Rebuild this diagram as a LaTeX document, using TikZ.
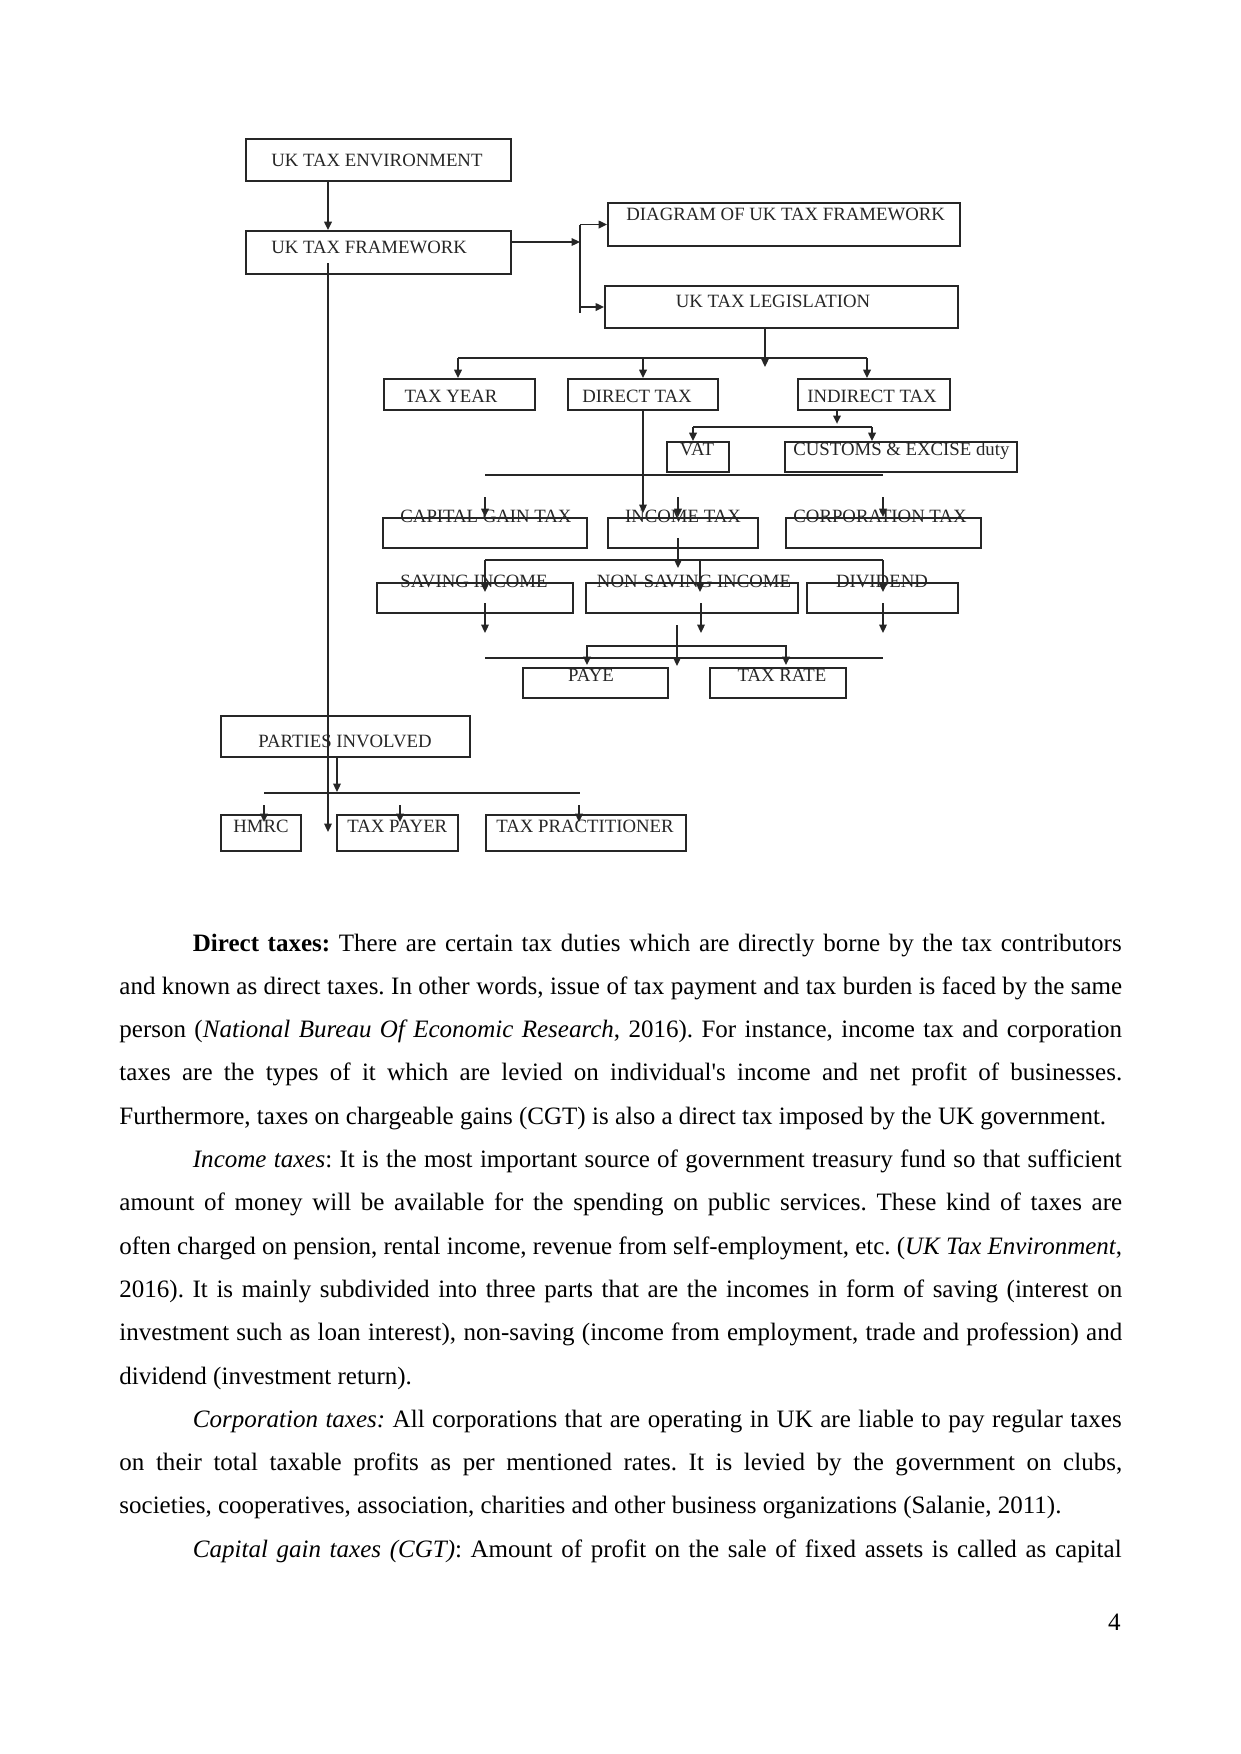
\documentclass[tikz,border=0pt]{standalone}
\usepackage{fontspec}
\setmainfont{Liberation Serif}
\usetikzlibrary{arrows.meta,fit}

\tikzset{
  box/.style={draw=black!85, line width=0.9pt, inner sep=0pt},
  lbl/.style={text=black!85, font=\fontsize{9}{10}\selectfont, inner sep=0pt},
  con/.style={draw=black!85, line width=0.8pt},
  arr/.style={con, -{Triangle[length=4pt,width=3.6pt]}},
  txt/.style={inner sep=0pt, anchor=base west, font=\fontsize{12}{14}\selectfont},
}
\newcommand{\fullline}[1]{\makebox[481pt][s]{#1}}
\newcommand{\indline}[1]{\makebox[445.5pt][s]{#1}}
\frenchspacing

\begin{document}
\begin{tikzpicture}[x=0.47968pt, y=-0.47968pt]
    \useasboundingbox (0,0) rectangle (1241,1754);

    % Boxes
    \node[box, fit={(246,139) (511,181)}] (env) {};
    \node[box, fit={(246,231) (511,274)}] (fw) {};
    \node[box, fit={(608,203) (960,246)}] (diag) {};
    \node[box, fit={(605,286) (958,328)}] (leg) {};
    \node[box, fit={(384,379) (535,410)}] (tyear) {};
    \node[box, fit={(568,379) (718,410)}] (direct) {};
    \node[box, fit={(798,379) (950,410)}] (indirect) {};
    \node[box, fit={(667,442) (729,472)}] (vat) {};
    \node[box, fit={(785,442) (1017,472)}] (customs) {};
    \node[box, fit={(383,518) (587,548)}] (cgt) {};
    \node[box, fit={(608,518) (758,548)}] (income) {};
    \node[box, fit={(786,518) (981,548)}] (corp) {};
    \node[box, fit={(377,583) (573,613)}] (saving) {};
    \node[box, fit={(586,583) (798,613)}] (nonsaving) {};
    \node[box, fit={(807,583) (958,613)}] (dividend) {};
    \node[box, fit={(523,668) (668,698)}] (paye) {};
    \node[box, fit={(710,668) (846,698)}] (rate) {};
    \node[box, fit={(221,716) (470,757)}] (parties) {};
    \node[box, fit={(221,815) (301,851)}] (hmrc) {};
    \node[box, fit={(337,815) (458,851)}] (payer) {};
    \node[box, fit={(486,815) (686,851)}] (practitioner) {};

    % Box labels
    \node[lbl, anchor=base west] (env-t) at (271,166) {UK TAX ENVIRONMENT};
    \node[lbl, anchor=base west] (fw-t) at (271,253) {UK TAX FRAMEWORK};
    \node[lbl, anchor=base west] (diag-t) at (626,220) {DIAGRAM OF UK TAX FRAMEWORK};
    \node[lbl, anchor=base] (leg-t) at (773,307) {UK TAX LEGISLATION};
    \node[lbl, anchor=base] (tyear-t) at (451,402) {TAX YEAR};
    \node[lbl, anchor=base] (direct-t) at (637,402) {DIRECT TAX};
    \node[lbl, anchor=base] (indirect-t) at (872,402) {INDIRECT TAX};
    \node[lbl, anchor=base] (vat-t) at (697,455) {VAT};
    \node[lbl, anchor=base west] (customs-t) at (793,455) {CUSTOMS \& EXCISE duty};
    \node[lbl, anchor=base] (cgt-t) at (486,522) {CAPITAL GAIN TAX};
    \node[lbl, anchor=base] (income-t) at (683,522) {INCOME TAX};
    \node[lbl, anchor=base] (corp-t) at (880,522) {CORPORATION TAX};
    \node[lbl, anchor=base] (saving-t) at (474,587) {SAVING INCOME};
    \node[lbl, anchor=base] (nonsaving-t) at (694,587) {NON-SAVING INCOME};
    \node[lbl, anchor=base] (dividend-t) at (882,587) {DIVIDEND};
    \node[lbl, anchor=base] (paye-t) at (591,681) {PAYE};
    \node[lbl, anchor=base] (rate-t) at (782,681) {TAX RATE};
    \node[lbl, anchor=base west] (parties-t) at (258,747) {PARTIES INVOLVED};
    \node[lbl, anchor=base west] (hmrc-t) at (233,832) {HMRC};
    \node[lbl, anchor=base west] (payer-t) at (347,832) {TAX PAYER};
    \node[lbl, anchor=base west] (practitioner-t) at (496,832) {TAX PRACTITIONER};

    % Trunk
    \coordinate (trunk) at (328,263);
    \coordinate (trunkend) at (328,832);
    \draw[arr] (env.south -| trunk) -- (fw.north -| trunk);
    \draw[arr] (trunk) -- (trunkend);

    % Framework split
    \coordinate (split) at (580,242);
    \coordinate (splitend) at (580,313);
    \draw[arr] (fw.east |- split) -- (split);
    \draw[con] (diag.west -| split) -- (splitend);
    \draw[arr] (diag.west -| split) -- (diag.west);
    \draw[arr] (leg.west -| split) -- (leg.west);

    % Legislation to tax types
    \coordinate (legend) at (765,367);
    \coordinate (bus1) at (458,358);
    \coordinate (bus1r) at (867,358);
    \draw[arr] (leg.south -| legend) -- (legend);
    \draw[con] (bus1) -- (bus1r);
    \draw[arr] (bus1) -- (bus1 |- tyear.north);
    \draw[arr] (direct.north |- bus1) -- (direct.north);
    \draw[arr] (bus1r) -- (bus1r |- indirect.north);

    % Indirect tax
    \coordinate (bus2) at (837,427);
    \coordinate (bus2l) at (693,427);
    \coordinate (bus2r) at (872,427);
    \draw[arr] (indirect.south -| bus2) -- ([yshift=1.5pt]bus2);
    \draw[con] (bus2l) -- (bus2r);
    \draw[arr] (bus2l) -- (bus2l |- vat.north);
    \draw[arr] (bus2r) -- (bus2r |- customs.north);

    % Direct tax
    \coordinate (line1) at (485,475);
    \coordinate (line1r) at (883,475);
    \coordinate (directend) at (643,513);
    \draw[con] (line1) -- (line1r);
    \draw[arr] (direct.south -| directend) -- (directend);
    \foreach \x [count=\i] in {485,678,883} {
        \coordinate (up\i) at (\x,497);
        \draw[arr] (up\i) -- (up\i |- cgt.north);
    }

    % Income tax
    \coordinate (incin) at (678,538);
    \coordinate (incend) at (678,568);
    \coordinate (bus3) at (485,560);
    \coordinate (bus3r) at (883,560);
    \draw[arr] (incin) -- (incend);
    \draw[con] (bus3) -- (bus3r);
    \foreach \x [count=\i] in {485,700,883} {
        \coordinate (mid\i) at (\x,560);
        \coordinate (midend\i) at (\x,592);
        \draw[arr] (mid\i) -- (midend\i);
    }

    % PAYE and tax rate
    \foreach \x [count=\i] in {485,701,883} {
        \coordinate (low\i) at (\x,603);
        \coordinate (lowend\i) at (\x,633);
        \draw[arr] (low\i) -- (lowend\i);
    }
    \coordinate (line2) at (485,658);
    \coordinate (line2r) at (883,658);
    \coordinate (pdrop) at (677,625);
    \coordinate (pdropend) at (677,666);
    \coordinate (brl) at (587,646);
    \coordinate (brr) at (786,646);
    \draw[con] (line2) -- (line2r);
    \draw[arr] (pdrop) -- (pdropend);
    \draw[con, {Triangle[length=4pt,width=3.6pt]}-{Triangle[length=4pt,width=3.6pt]}]
        (brl |- 0,665) -- (brl) -- (brr) -- (brr |- 0,665);

    % Parties involved
    \coordinate (parend) at (337,792);
    \coordinate (bus4) at (264,793);
    \coordinate (bus4r) at (580,793);
    \draw[arr] (parties.south -| parend) -- (parend);
    \draw[con] (bus4) -- (bus4r);
    \foreach \x [count=\i] in {264,400,579} {
        \coordinate (pt\i) at (\x,805);
        \draw[arr] (pt\i) -- (pt\i |- 0,822);
    }

    % Text
    \node[txt] (l1) at (192.5,951) {\indline{\textbf{Direct taxes:} There are certain tax duties which are directly borne by the tax contributors}};
    \node[txt] (l2) at (119,994.3) {\fullline{and known as direct taxes. In other words, issue of tax payment and tax burden is faced by the same}};
    \node[txt] (l3) at (119,1037.6) {\fullline{person (\textit{National Bureau Of Economic Research}, 2016). For instance, income tax and corporation}};
    \node[txt] (l4) at (119,1080.9) {\fullline{taxes are the types of it which are levied on individual\textquotesingle s income and net profit of businesses.}};
    \node[txt] (l5) at (119,1124.2) {Furthermore, taxes on chargeable gains (CGT) is also a direct tax imposed by the UK government.};
    \node[txt] (l6) at (192.5,1167.5) {\indline{\textit{Income taxes}: It is the most important source of government treasury fund so that sufficient}};
    \node[txt] (l7) at (119,1210.8) {\fullline{amount of money will be available for the spending on public services. These kind of taxes are}};
    \node[txt] (l8) at (119,1254.1) {\fullline{often charged on pension, rental income, revenue from self-employment, etc. (\textit{UK Tax Environment},}};
    \node[txt] (l9) at (119,1297.4) {\fullline{2016). It is mainly subdivided into three parts that are the incomes in form of saving (interest on}};
    \node[txt] (l10) at (119,1340.7) {\fullline{investment such as loan interest), non-saving (income from employment, trade and profession) and}};
    \node[txt] (l11) at (119,1384) {dividend (investment return).};
    \node[txt] (l12) at (192.5,1427.3) {\indline{\textit{Corporation taxes:} All corporations that are operating in UK are liable to pay regular taxes}};
    \node[txt] (l13) at (119,1470.6) {\fullline{on their total taxable profits as per mentioned rates. It is levied by the government on clubs,}};
    \node[txt] (l14) at (119,1513.9) {societies, cooperatives, association, charities and other business organizations (Salanie, 2011).};
    \node[txt] (l15) at (192.5,1557.2) {\indline{\textit{Capital gain taxes (CGT)}: Amount of profit on the sale of fixed assets is called as capital}};

    % Page number
    \node[txt, anchor=base east] (pageno) at (1121,1630) {4};
\end{tikzpicture}
\end{document}
